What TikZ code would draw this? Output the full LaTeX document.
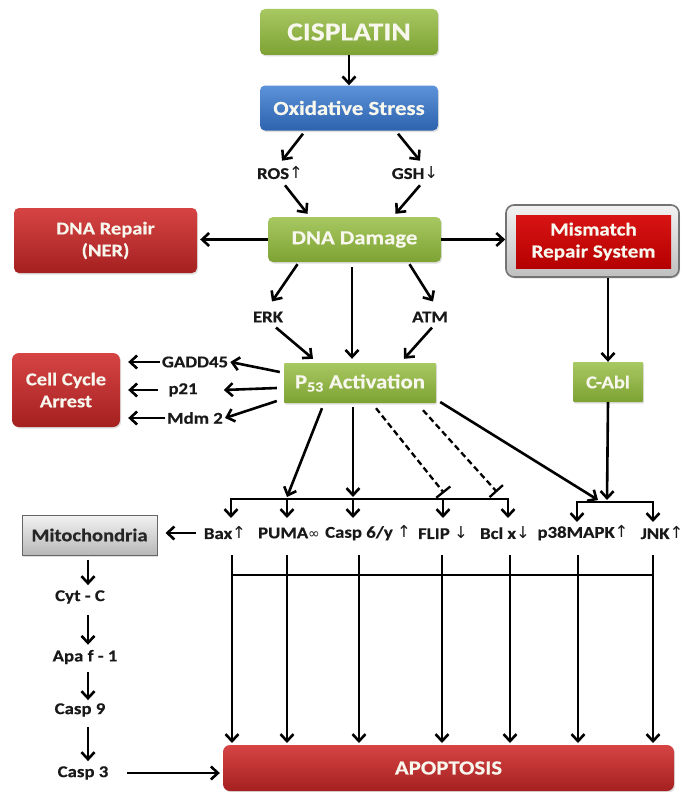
\documentclass[tikz,border=0pt]{standalone}
\usepackage{fontspec}
\setmainfont{Carlito}[FakeStretch=1.14, BoldFeatures={FakeBold=0.4}]
\newfontfamily\sym{DejaVu Sans}
\usetikzlibrary{arrows.meta,shadows,calc}
\definecolor{gtop}{HTML}{A8C862}
\definecolor{gbot}{HTML}{7DA233}
\definecolor{btop}{HTML}{5C93DA}
\definecolor{bbot}{HTML}{2D62AC}
\definecolor{rtop}{HTML}{D64444}
\definecolor{rbot}{HTML}{A52020}
\definecolor{mtop}{HTML}{D81414}
\definecolor{mbot}{HTML}{B50000}
\definecolor{txtw}{HTML}{F7F7EE}
\newcommand{\myup}{{\sym\mdseries\char"2191}}
\newcommand{\mydn}{{\sym\mdseries\char"2193}}
\newcommand{\myinf}{{\sym\mdseries\fontsize{14}{16}\selectfont\char"221E}}
\tikzset{
  boxbase/.style={rounded corners=5pt, inner sep=0pt, align=center, text=txtw,
    drop shadow={shadow xshift=1.2pt, shadow yshift=-1.5pt, opacity=0.25}},
  greenbox/.style={boxbase, top color=gtop, bottom color=gbot},
  bluebox/.style={boxbase, top color=btop, bottom color=bbot},
  redbox/.style={boxbase, top color=rtop, bottom color=rbot},
  graybox/.style={inner sep=0pt, align=center, top color=white!95!black, bottom color=white!72!black,
    draw=black!60, line width=1pt, drop shadow={shadow xshift=1.2pt, shadow yshift=-1.5pt, opacity=0.25}},
  mmrouter/.style={rounded corners=8pt, inner sep=0pt, top color=white!95!black, bottom color=white!75!black,
    draw=black!55, line width=1.6pt, drop shadow={shadow xshift=1.2pt, shadow yshift=-1.5pt, opacity=0.25}},
  mmrinner/.style={inner sep=0pt, align=center, text=txtw, top color=mtop, bottom color=mbot},
  lbl/.style={inner sep=2pt, font=\bfseries\fontsize{16.5}{18}\selectfont, text=black!90},
  arr/.style={line width=2.6pt, -{Straight Barb[length=7pt,width=13pt]}},
  plainline/.style={line width=2.6pt},
  inhib/.style={line width=2.3pt, dash pattern=on 6pt off 3.5pt, -{Bar[width=18pt]}}
}
\begin{document}
\begin{tikzpicture}[x=1pt,y=-1pt]
\useasboundingbox (0,0) rectangle (682,792);
\fill[white] (0,0) rectangle (682,792);

% boxes
\node[greenbox, minimum width=178, minimum height=46, font=\bfseries\fontsize{26}{28}\selectfont] (cis) at (349,32) {CISPLATIN};
\node[bluebox, minimum width=178, minimum height=45, font=\bfseries\fontsize{20}{22}\selectfont] (os) at (349,108) {Oxidative Stress};
\node[greenbox, minimum width=173, minimum height=45, font=\bfseries\fontsize{20}{22}\selectfont] (dna) at (354.5,239.5) {DNA Damage};
\node[redbox, minimum width=183, minimum height=65, font=\bfseries\fontsize{18}{22}\selectfont] (rep) at (105.5,240.5) {DNA Repair\\(NER)};
\node[mmrouter, minimum width=173, minimum height=72] (mmro) at (592.5,241) {};
\node[mmrinner, minimum width=155, minimum height=53, font=\bfseries\fontsize{18.5}{22}\selectfont] (mmr) at (593.5,241.5) {Mismatch\\Repair System};
\node[greenbox, rounded corners=1pt, minimum width=152, minimum height=40, font=\bfseries\fontsize{20}{22}\selectfont] (p53) at (360,383) {P\textsubscript{53} Activation};
\node[greenbox, rounded corners=1pt, minimum width=70, minimum height=40, font=\bfseries\fontsize{18}{22}\selectfont] (cabl) at (608,382) {C-Abl};
\node[redbox, rounded corners=7pt, minimum width=108, minimum height=74, font=\bfseries\fontsize{18}{22}\selectfont] (cca) at (66,390) {Cell Cycle\\Arrest};
\node[graybox, minimum width=135, minimum height=40, font=\bfseries\fontsize{18}{22}\selectfont, text=black!85] (mito) at (89.5,535) {Mitochondria};
\node[redbox, rounded corners=7pt, minimum width=451, minimum height=46, font=\bfseries\fontsize{20}{22}\selectfont] (apo) at (448.5,768) {APOPTOSIS};

% labels
\node[lbl] (ros) at (280,173) {ROS\myup};
\node[lbl] (gsh) at (415,173) {GSH\mydn};
\node[lbl] (erk) at (268,317) {ERK};
\node[lbl] (atm) at (430,317) {ATM};
\node[lbl] (gadd) at (195,362) {GADD45};
\node[lbl] (p21) at (183,390) {p21};
\node[lbl] (mdm) at (195,418) {Mdm 2};
\node[lbl] (bax) at (225,533) {Bax\myup};
\node[lbl] (puma) at (289,533) {PUMA\myinf};
\node[lbl] (casp) at (368,533) {Casp 6/y \myup};
\node[lbl] (flip) at (443,533) {FLIP \mydn};
\node[lbl] (bcl) at (505,533) {Bcl x\mydn};
\node[lbl] (p38) at (583,533) {p38MAPK\myup};
\node[lbl] (jnk) at (662,533) {JNK\myup};
\node[lbl] (cyt) at (80,597) {Cyt - C};
\node[lbl] (apaf) at (85,657) {Apa f - 1};
\node[lbl] (c9) at (80,710) {Casp 9};
\node[lbl] (c3) at (83,773) {Casp 3};

% helper coordinates
\coordinate (cx) at (352,0);
\coordinate (lx) at (88,0);
\coordinate (b1a) at (231,499);
\coordinate (b1e) at (508,499);
\coordinate (b2a) at (577,502);
\coordinate (b2b) at (653,502);
\coordinate (b3a) at (232,575);
\coordinate (b3b) at (653,575);
\coordinate (t1) at (287,497);
\coordinate (t2) at (353,497);
\coordinate (i1) at (444,493);
\coordinate (i2) at (497,492);
\coordinate (t5) at (598,500);
\coordinate (t6) at (607,500);

% top connectors
\draw[arr] (cis.south) -- (os.north);
\draw[arr] ($(os.south)+(-46,3)$) -- ($(ros.north)+(2,-4)$);
\draw[arr] ($(ros.south)+(5,4)$) -- ($(dna.north)+(-47,-3)$);
\draw[arr] ($(os.south)+(49,3)$) -- ($(gsh.north)+(5,-4)$);
\draw[arr] ($(gsh.south)+(5,4)$) -- ($(dna.north)+(41,-3)$);
\draw[arr, shorten >=3pt] (dna.west) -- (dna.west -| rep.east);
\draw[arr] (dna.east) -- (dna.east -| mmro.west);
\draw[arr] ($(dna.south)+(-57,2)$) -- ($(erk.north)+(4,-8)$);
\draw[arr] ($(erk.south)+(8,3)$) -- ($(p53.north)+(-47,-4)$);
\draw[arr, shorten <=5pt, shorten >=4pt] (cx |- dna.south) -- (cx |- p53.north);
\draw[arr] ($(dna.south)+(55,2)$) -- ($(atm.north)+(3,-8)$);
\draw[arr] ($(atm.south)+(2,3)$) -- ($(p53.north)+(44,-4)$);
\draw[arr] (mmro.south -| cabl.north) -- (cabl.north);

% cell cycle arrest branch
\draw[arr] ($(p53.west)+(-4,-11)$) -- (gadd.east);
\draw[arr] ($(p53.west)+(-7,5)$) -- ($(p21.east)+(24,0)$);
\draw[arr] ($(p53.west)+(-7,18)$) -- (mdm.east);
\draw[arr, shorten >=8pt] (gadd.west) -- (gadd.west -| cca.east);
\draw[arr, shorten >=8pt] ($(p21.west)+(-8,0)$) -- (p21.west -| cca.east);
\draw[arr, shorten >=8pt] (mdm.west) -- (mdm.west -| cca.east);

% p53 downstream
\draw[arr] ($(p53.south)+(-38,5)$) -- (t1);
\draw[arr] ($(p53.south)+(-7,4)$) -- (t2);
\draw[inhib] ($(p53.south)+(16,5)$) -- (i1);
\draw[inhib] ($(p53.south)+(63,7)$) -- (i2);
\draw[arr] ($(p53.east)+(4,19)$) -- (t5);
\draw[arr] (cabl.south) -- (t6);

% bus 1
\draw[plainline] (b1a) -- (b1e);
\foreach \x in {231,287,353,443,508}{
  \draw[arr] (\x,498) -- (\x,518);
}
% bus 2
\draw[plainline] (b2a) -- (b2b);
\draw[arr] ($(b2a)+(0,-1)$) -- ++(0,21);
\draw[arr] ($(b2b)+(0,-1)$) -- ++(0,21);

% mitochondria pathway
\draw[arr, shorten <=6pt, shorten >=8pt] (bax.west) -- (bax.west -| mito.east);
\draw[arr, shorten <=4pt, shorten >=3pt] (lx |- mito.south) -- (lx |- cyt.north);
\draw[arr, shorten <=9pt, shorten >=3pt] (lx |- cyt.south) -- (lx |- apaf.north);
\draw[arr, shorten <=6pt, shorten >=1pt] (lx |- apaf.south) -- (lx |- c9.north);
\draw[arr, shorten <=8pt, shorten >=3pt] (lx |- c9.south) -- (lx |- c3.north);
\draw[arr, shorten >=3pt] ($(c3.east)+(16,0)$) -- (c3.east -| apo.west);

% bus 3 to apoptosis
\draw[plainline] (b3a) -- (b3b);
\foreach \x in {232,287,359,442,510,578,653}{
  \draw[arr] (\x,555) -- (\x,743);
}
\end{tikzpicture}
\end{document}
